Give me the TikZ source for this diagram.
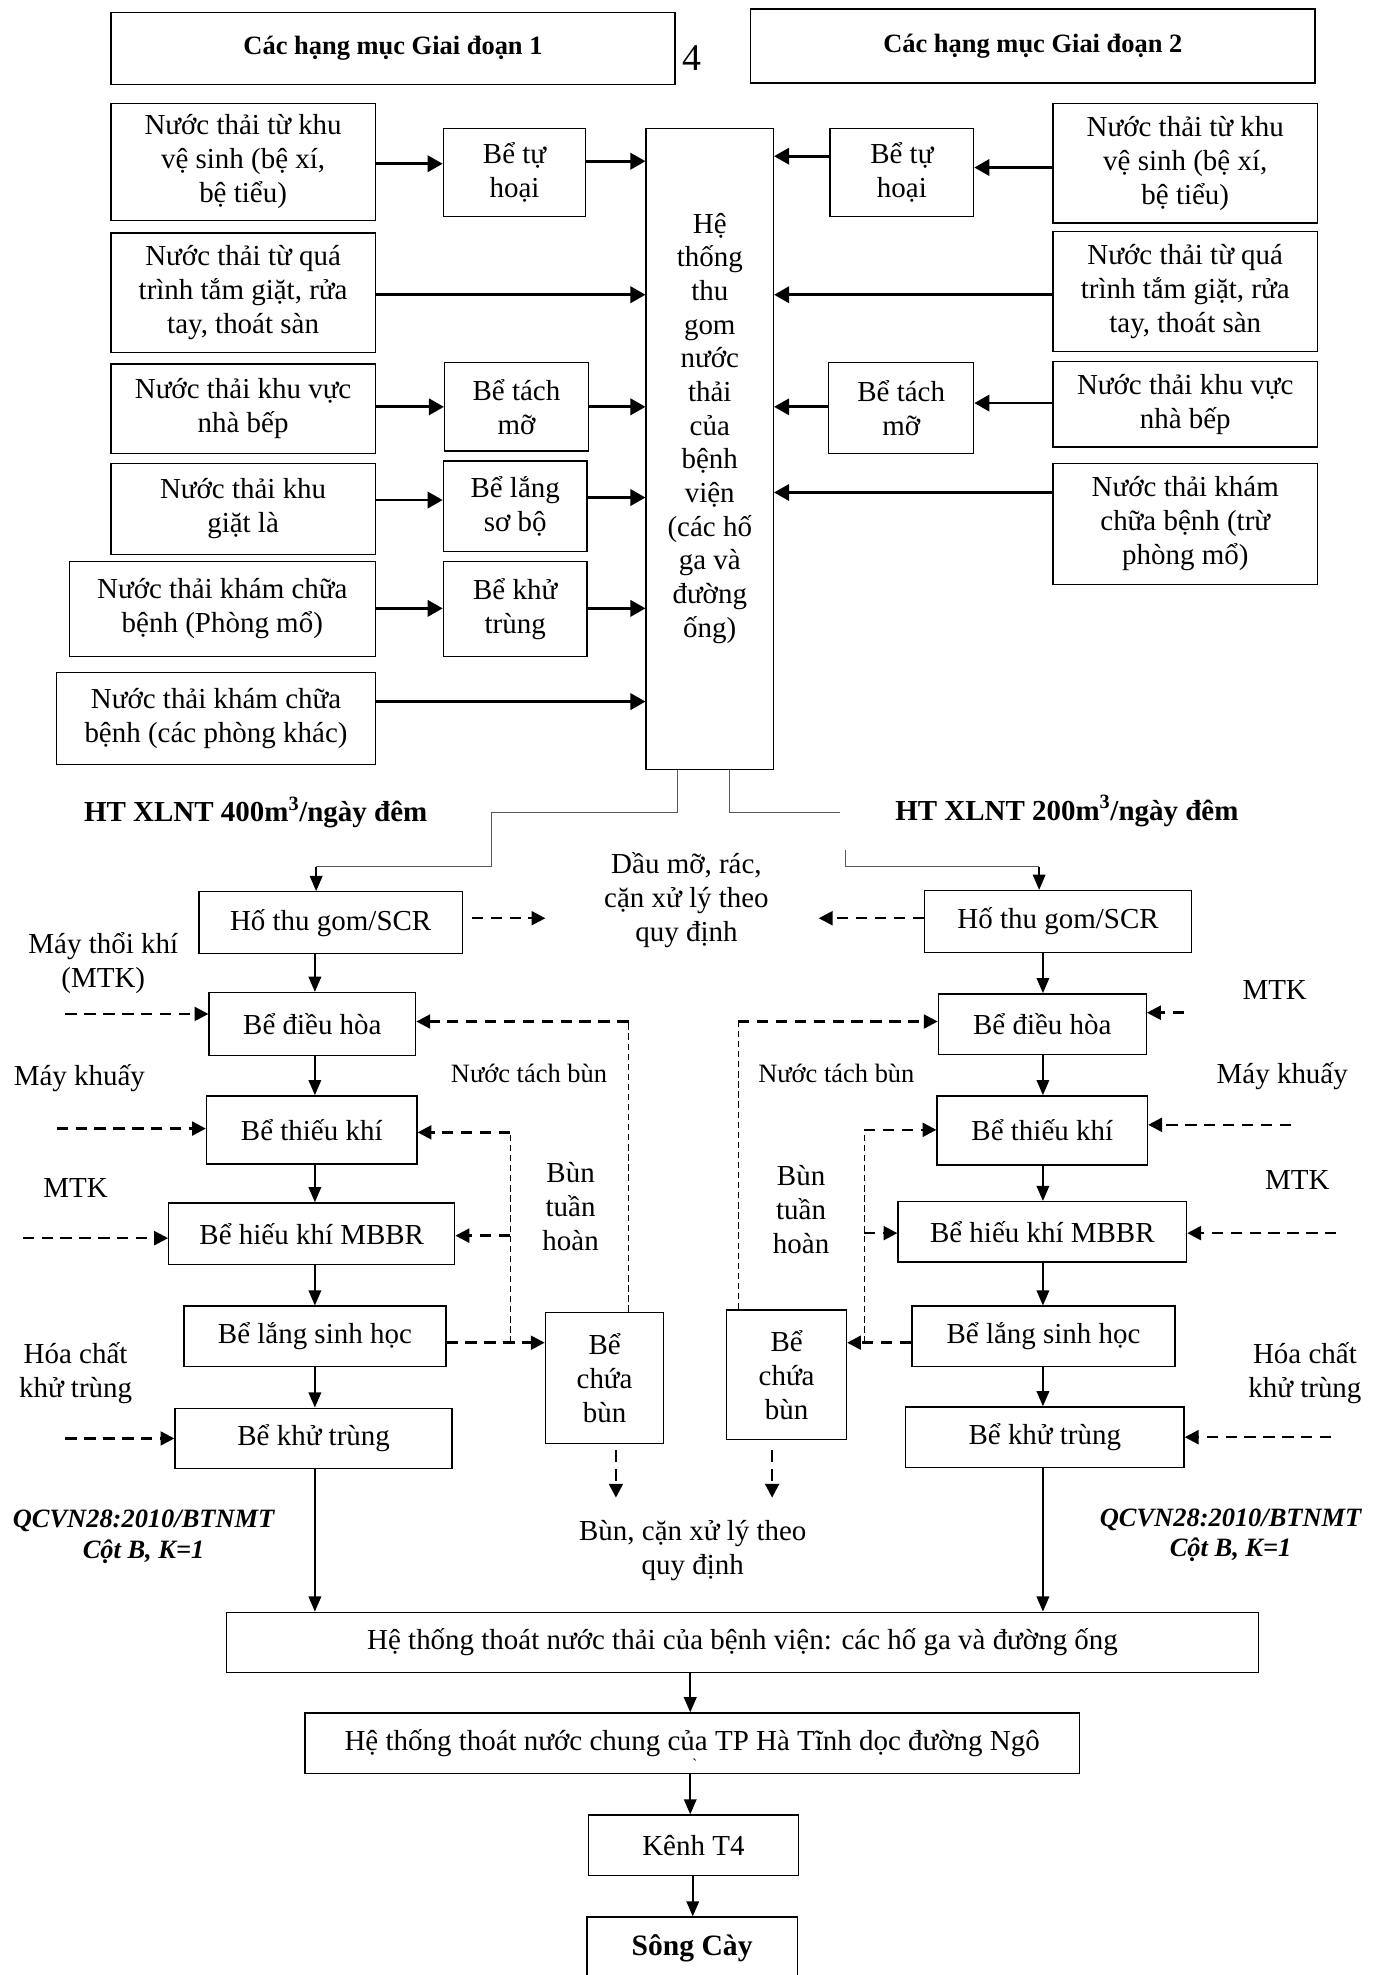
\documentclass[tikz,border=0pt]{standalone}
\usepackage{fontspec}
\setmainfont{Liberation Serif}
\usetikzlibrary{arrows.meta,calc}
\newcommand\fszA{\fontsize{23}{27}\selectfont}
\newcommand\fszC{\fontsize{23}{26.75}\selectfont}
\newcommand\fszB{\bfseries\fontsize{21}{25}\selectfont}
\newcommand\fszSC{\bfseries\fontsize{23.5}{27}\selectfont}
\newcommand\fszL{\fontsize{23}{27}\selectfont}
\newcommand\fszS{\fontsize{21}{25}\selectfont}
\newcommand\fszQ{\bfseries\itshape\fontsize{21}{24}\selectfont}
\newcommand\fszFour{\fontsize{30}{32}\selectfont}
\newcommand\mkbox[7][]{\node[bx,#1,minimum width=#5pt,minimum height=#6pt] (#2) at (#3,#4) {#7};}
\tikzset{
  bx/.style={draw, line width=1.1pt, align=center, inner sep=0pt, font=\fszA},
  bxB/.style={font=\fszB},
  bxL/.style={font=\fszL},
  arrT/.style={line width=2.2pt, -{Triangle[length=12pt,width=13pt]}},
  arrL/.style={line width=1.3pt, -{Triangle[length=12pt,width=10pt]}},
  arrD/.style={line width=2pt, dash pattern=on 9pt off 6pt, -{Triangle[length=11pt,width=11pt]}},
  thinD/.style={line width=0.8pt, dash pattern=on 5pt off 3pt},
  grayln/.style={line width=1pt, black!65},
  lbl/.style={align=center, inner sep=0pt, font=\fszL},
}
\begin{document}
\begin{tikzpicture}[x=1pt,y=-1pt]
\useasboundingbox (0,0) rectangle (1094,1568);
\fill[white] (0,0) rectangle (1094,1568);

% ---------- top headers ----------
\mkbox[bxB]{g1}{312}{38.5}{448}{57}{Các hạng mục Giai đoạn 1}
\node[font=\fszFour, inner sep=0pt] (four) at (549,46) {4};
\mkbox[bxB]{g2}{820}{36.5}{448}{59}{Các hạng mục Giai đoạn 2}

% ---------- left sources ----------
\mkbox{L1}{193}{128.5}{210}{93}{Nước thải từ khu\\vệ sinh (bệ xí,\\bệ tiểu)}
\mkbox{L2}{193}{232.5}{210}{95}{Nước thải từ quá\\trình tắm giặt, rửa\\tay, thoát sàn}
\mkbox{L3}{193}{324.5}{210}{71}{Nước thải khu vực\\nhà bếp}
\mkbox{L4}{193}{404}{210}{72}{Nước thải khu\\giặt là}
\mkbox{L5}{176.5}{483.5}{243}{75}{Nước thải khám chữa\\bệnh (Phòng mổ)}
\mkbox{L6}{171.5}{570.5}{253}{73}{Nước thải khám chữa\\bệnh (các phòng khác)}
\mkbox{B1}{408.5}{137}{113}{70}{Bể tự\\hoại}
\mkbox{B3}{410}{323}{114}{70}{Bể tách\\mỡ}
\mkbox{B4}{409}{402}{114}{72}{Bể lắng\\sơ bộ}
\mkbox{B5}{409}{483.5}{114}{75}{Bể khử\\trùng}

% ---------- central ----------
\mkbox{C}{563.5}{356.5}{101}{509}{}
\node[align=center, inner sep=0pt, font=\fszC] (Ct) at (563.5,340) {Hệ\\thống\\thu\\gom\\nước\\thải\\của\\bệnh\\viện\\(các hố\\ga và\\đường\\ống)};

% ---------- right sources ----------
\mkbox{R1}{941}{129.5}{210}{95}{Nước thải từ khu\\vệ sinh (bệ xí,\\bệ tiểu)}
\mkbox{R2}{941}{231.5}{210}{95}{Nước thải từ quá\\trình tắm giặt, rửa\\tay, thoát sàn}
\mkbox{R3}{941}{321}{210}{68}{Nước thải khu vực\\nhà bếp}
\mkbox{R4}{941}{416}{210}{96}{Nước thải khám\\chữa bệnh (trừ\\phòng mổ)}
\mkbox{RB1}{716}{137}{114}{70}{Bể tự\\hoại}
\mkbox{RB3}{715.5}{324}{115}{72}{Bể tách\\mỡ}

% ---------- top arrows ----------
\draw[arrT] (L1.east |- 0,130) -- (B1.west |- 0,130);
\draw[arrT] (B1.east |- 0,128) -- (C.west |- 0,128);
\draw[arrT] (L2.east |- 0,234) -- (C.west |- 0,234);
\draw[arrT] (L3.east |- 0,323) -- (B3.west |- 0,323);
\draw[arrT] (B3.east |- 0,323) -- (C.west |- 0,323);
\draw[arrT] (L4.east |- 0,397) -- (B4.west |- 0,397);
\draw[arrT] (B4.east |- 0,395) -- (C.west |- 0,395);
\draw[arrT] (L5.east |- 0,483) -- (B5.west |- 0,483);
\draw[arrT] (B5.east |- 0,483) -- (C.west |- 0,483);
\draw[arrT] (L6.east |- 0,557) -- (C.west |- 0,557);
\draw[arrT] (R1.west |- 0,133) -- (RB1.east |- 0,133);
\draw[arrT] (RB1.west |- 0,124) -- (C.east |- 0,124);
\draw[arrT] (R2.west |- 0,234) -- (C.east |- 0,234);
\draw[arrT] (R3.west |- 0,320) -- (RB3.east |- 0,320);
\draw[arrT] (RB3.west |- 0,323) -- (C.east |- 0,323);
\draw[arrT] (R4.west |- 0,391) -- (C.east |- 0,391);

% ---------- section titles ----------
\node[inner sep=0pt, font=\fontsize{23}{27}\selectfont\bfseries] (t400) at (203,645) {HT XLNT 400m\textsuperscript{3}/ngày đêm};
\node[inner sep=0pt, font=\fontsize{23}{27}\selectfont\bfseries] (t200) at (847,644) {HT XLNT 200m\textsuperscript{3}/ngày đêm};

% ---------- lower left line ----------
\mkbox[bxL]{HG1}{262.5}{732.5}{209}{49}{Hố thu gom/SCR}
\mkbox[bxL]{DH1}{248}{813}{164}{50}{Bể điều hòa}
\mkbox[bxL]{TK1}{247.5}{897}{167}{54}{Bể thiếu khí}
\mkbox[bxL]{HK1}{247.5}{979.5}{227}{49}{Bể hiếu khí MBBR}
\mkbox[bxL]{LS1}{250}{1061}{208}{48}{Bể lắng sinh học}
\mkbox[bxL]{KT1}{249}{1142}{220}{48}{Bể khử trùng}
\mkbox[bxL]{BC1}{480}{1094}{94}{104}{Bể\\chứa\\bùn}

% ---------- lower right line ----------
\mkbox[bxL]{HG2}{840}{731.5}{212}{49}{Hố thu gom/SCR}
\mkbox[bxL]{DH2}{827.5}{813}{165}{48}{Bể điều hòa}
\mkbox[bxL]{TK2}{827.5}{897.5}{167}{55}{Bể thiếu khí}
\mkbox[bxL]{HK2}{827.5}{978}{229}{48}{Bể hiếu khí MBBR}
\mkbox[bxL]{LS2}{828.5}{1061}{209}{48}{Bể lắng sinh học}
\mkbox[bxL]{KT2}{829.5}{1141}{221}{48}{Bể khử trùng}
\mkbox[bxL]{BC2}{624.5}{1091.5}{95}{103}{Bể\\chứa\\bùn}

% ---------- bottom chain ----------
\mkbox[bxL]{HT}{589.5}{1304}{819}{48}{Hệ thống thoát nước thải của bệnh viện: các hố ga và đường ống}
\mkbox[bxL]{HT2}{549.5}{1384}{615}{48}{Hệ thống thoát nước chung của TP Hà Tĩnh dọc đường Ngô}
\node[inner sep=0pt, font=\fontsize{12}{12}\selectfont] (grave) at (552,1402) {\`{}};
\mkbox[bxL]{KT4}{550.5}{1465}{167}{48}{Kênh T4}
\mkbox[font=\fszSC]{SC}{549.5}{1547}{167}{50}{Sông Cày}

% ---------- gray split from central box ----------
\coordinate (sL1) at (538,645);
\coordinate (sL2) at (390,645);
\coordinate (sL3) at (390,688);
\coordinate (sL4) at (251,688);
\draw[grayln] (C.south -| sL1) -- (sL1) -- (sL2) -- (sL3) -- (sL4);
\draw[line width=1.1pt, -{Triangle[length=12pt,width=10pt]}] (sL4) -- (HG1.north -| sL4);
\coordinate (sR1) at (579,645);
\coordinate (sR2) at (667,645);
\draw[grayln] (C.south -| sR1) -- (sR1) -- (sR2);
\coordinate (sR3) at (671,675);
\coordinate (sR4) at (671,688);
\coordinate (sR5) at (825,688);
\draw[grayln] (sR3) -- (sR4) -- (sR5);
\draw[line width=1.1pt, -{Triangle[length=12pt,width=10pt]}] (sR5) -- (HG2.north -| sR5);

% ---------- solid flow arrows ----------
\draw[arrL] (HG1.south -| 250,0) -- (DH1.north -| 250,0);
\draw[arrL] (DH1.south -| 250,0) -- (TK1.north -| 250,0);
\draw[arrL] (TK1.south -| 250,0) -- (HK1.north -| 250,0);
\draw[arrL] (HK1.south -| 250,0) -- (LS1.north -| 250,0);
\draw[arrL] (LS1.south -| 250,0) -- (KT1.north -| 250,0);
\draw[arrL] (KT1.south -| 250,0) -- (HT.north -| 250,0);
\draw[arrL] (HG2.south -| 828,0) -- (DH2.north -| 828,0);
\draw[arrL] (DH2.south -| 828,0) -- (TK2.north -| 828,0);
\draw[arrL] (TK2.south -| 828,0) -- (HK2.north -| 828,0);
\draw[arrL] (HK2.south -| 828,0) -- (LS2.north -| 828,0);
\draw[arrL] (LS2.south -| 828,0) -- (KT2.north -| 828,0);
\draw[arrL] (KT2.south -| 828,0) -- (HT.north -| 828,0);
\draw[arrL] (HT.south -| 548,0) -- (HT2.north -| 548,0);
\draw[arrL] (HT2.south -| 548,0) -- (KT4.north -| 548,0);
\draw[arrL] (KT4.south -| 550,0) -- (SC.north -| 550,0);

% ---------- side labels ----------
\node[lbl] (mtk1) at (82,765) {Máy thổi khí\\(MTK)};
\node[lbl] (mk1) at (63,856) {Máy khuấy};
\node[lbl] (mtk2) at (60,943) {MTK};
\node[lbl] (hc1) at (60,1090) {Hóa chất\\khử trùng};
\node[lbl] (mtk3) at (1012,786) {MTK};
\node[lbl] (mk2) at (1018,854) {Máy khuấy};
\node[lbl] (mtk4) at (1030,937) {MTK};
\node[lbl] (hc2) at (1036,1090) {Hóa chất\\khử trùng};
\node[lbl] (dau) at (545,715) {Dầu mỡ, rác,\\cặn xử lý theo\\quy định};
\node[lbl] (bunc) at (550,1231) {Bùn, cặn xử lý theo\\quy định};
\node[lbl, font=\fszS] (ntb1) at (420,852) {Nước tách bùn};
\node[lbl, font=\fszS] (ntb2) at (664,852) {Nước tách bùn};
\node[lbl] (btl1) at (453,958) {Bùn\\tuần\\hoàn};
\node[lbl] (btl2) at (636,960) {Bùn\\tuần\\hoàn};
\node[lbl, font=\fszQ] (q1) at (114,1220) {QCVN28:2010/BTNMT\\Cột B, K=1};
\node[lbl, font=\fszQ] (q2) at (977,1219) {QCVN28:2010/BTNMT\\Cột B, K=1};

% ---------- dashed inputs ----------
\coordinate (iL1) at (52,805);
\coordinate (iL2) at (45,896);
\coordinate (iL3) at (18,983);
\coordinate (iL4) at (52,1142);
\draw[arrD] (iL1) -- (DH1.west |- iL1);
\draw[arrD] (iL2) -- (TK1.west |- iL2);
\draw[arrD] (iL3) -- (HK1.west |- iL3);
\draw[arrD] (iL4) -- (KT1.west |- iL4);
\coordinate (iR1) at (940,804);
\coordinate (iR2) at (1025,893);
\coordinate (iR3) at (1061,979);
\coordinate (iR4) at (1057,1141);
\draw[arrD] (iR1) -- (DH2.east |- iR1);
\draw[arrD] (iR2) -- (TK2.east |- iR2);
\draw[arrD] (iR3) -- (HK2.east |- iR3);
\draw[arrD] (iR4) -- (KT2.east |- iR4);

% to "Dầu mỡ" label
\coordinate (dL) at (433,729);
\coordinate (dR) at (650,729);
\draw[arrD] ($(HG1.east |- dL)+(7,0)$) -- (dL);
\draw[arrD] (HG2.west |- dR) -- (dR);

% sludge out
\coordinate (sb1) at (489,1189);
\coordinate (sb2) at (613,1189);
\draw[arrD] ($(BC1.south -| sb1)+(0,5)$) -- (sb1);
\draw[arrD] ($(BC2.south -| sb2)+(0,8)$) -- (sb2);

% ---------- left recirculation ----------
\coordinate (nL) at (499,811);
\draw[thinD] (BC1.north -| nL) -- (nL);
\draw[arrD] (nL) -- (DH1.east |- nL);
\coordinate (bL1) at (405,1066);
\coordinate (bL2) at (405,899);
\coordinate (bL3) at (405,981);
\draw[arrD] (LS1.east |- bL1) -- (BC1.west |- bL1);
\draw[thinD] (bL1) -- (bL2);
\draw[arrD] (bL2) -- (TK1.east |- bL2);
\draw[arrD] (bL3) -- (HK1.east |- bL3);

% ---------- right recirculation ----------
\coordinate (nR) at (586,811);
\draw[thinD] (BC2.north -| nR) -- (nR);
\draw[arrD] (nR) -- (DH2.west |- nR);
\coordinate (bR1) at (686,1066);
\coordinate (bR2) at (686,897);
\coordinate (bR3) at (686,979);
\draw[arrD] (LS2.west |- bR1) -- (BC2.east |- bR1);
\draw[thinD] (bR1) -- (bR2);
\draw[arrD] (bR2) -- (TK2.west |- bR2);
\draw[arrD] (bR3) -- (HK2.west |- bR3);
\end{tikzpicture}
\end{document}
